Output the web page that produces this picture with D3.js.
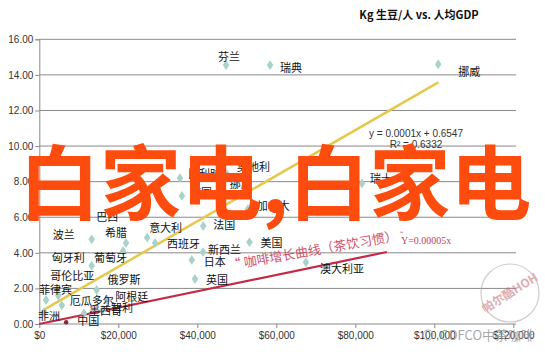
<!DOCTYPE html>
<html><head><meta charset="utf-8">
<script src="https://cdn.jsdelivr.net/npm/d3@7/dist/d3.min.js"></script>
<style>
html,body{margin:0;padding:0;background:#fff;}
svg{display:block;}
</style></head>
<body>
<svg id="c" width="545" height="355"></svg>
<script>
// ---- data ----
const countries = ["芬兰","瑞典","挪威","奥地利","挪威","比利时","德国","加拿大","瑞士","巴西","法国","美国","意大利","西班牙","希腊","波兰","葡萄牙","匈牙利","新西兰","日本","英国","澳大利亚","俄罗斯","哥伦比亚","菲律宾","厄瓜多尔","阿根廷","智利","墨西哥","非洲"];
const gdpPerCapita = [47270,58420,101000,47500,46200,35600,36100,52800,81700,11140,41500,53200,27300,29300,21950,13270,21200,13270,41450,38600,39400,67500,14500,4800,1700,5700,17200,16100,11300,1200];
const kgPerCapita = [14.55,14.55,14.6,8.4,8.05,8.2,7.2,6.45,7.9,6.07,5.51,4.6,4.85,4.55,4.55,4.76,4.1,3.28,4.04,3.6,2.53,3.47,1.91,1.6,1.35,1.05,1.35,0.8,0.6,0.65];
const chinaLabel = "中国";
const chinaGdp = 6800;
const chinaKg = 0.1;
const yTicks = [0,2,4,6,8,10,12,14,16];
const xTicks = [0,20000,40000,60000,80000,100000,120000];
const trendSlope = 0.000128, trendIntercept = 0.6547, trendRange = [1000,101000];
const coffeeSlope = 0.000046, coffeeRange = [0,88000];
const titleText = "Kg 生豆/人 vs. 人均GDP";
const eqText = ["y = 0.0001x + 0.6547","R² = 0.6332"];
const coffeeText = "“ 咖啡增长曲线（茶饮习惯）";
const coffeeEq = "Y=0.00005x";
const overlayText = "白家电,白家电";

// label offsets (layout only)
const labelPos = [
 [-8,-7,"start"],[10,4,"start"],[20,9,"start"],[10,-7,"start"],[8,4,"start"],[8,-3,"start"],[8,-2,"start"],[9,-2,"start"],[8,-3,"start"],
 [13,2,"start"],[10,0,"start"],[11,2,"start"],[2,-9,"start"],[12,2,"start"],[1,-9,"end"],[-17,-3,"end"],[4,8,"end"],[-7,-7,"end"],
 [5,-1,"start"],[12,3,"start"],[11,2,"start"],[14,8,"start"],[11,-9,"start"],[36,-19,"end"],[26,-9,"end"],[8,-3,"start"],[8,-2,"start"],[8,-1,"start"],[5,-1,"start"],[16,5,"end"]
];

const svg = d3.select("#c");
const x = d3.scaleLinear().domain([0,120000]).range([39.3,513.3]);
const y = d3.scaleLinear().domain([0,16]).range([324,39.3]);
const font = "'Noto Sans CJK SC','Liberation Sans',sans-serif";

// gridlines
svg.append("g").selectAll("line").data(yTicks.filter(d=>d>0)).join("line")
  .attr("x1",x(0)).attr("x2",516).attr("y1",d=>y(d)).attr("y2",d=>y(d))
  .attr("stroke","#8a8a8a").attr("stroke-width",1);

// axes
const yAxis = d3.axisLeft(y).tickValues(yTicks).tickFormat(d3.format(".2f")).tickSize(4).tickPadding(2);
const gy = svg.append("g").attr("transform",`translate(${x(0)},0)`).call(yAxis);
const xAxis = d3.axisBottom(x).tickValues(xTicks).tickFormat(d=>"$"+d3.format(",")(d)).tickSize(4).tickPadding(4);
const gx = svg.append("g").attr("transform",`translate(0,${y(0)})`).call(xAxis);
[gx,gy].forEach(g=>{
  g.selectAll("path,line").attr("stroke","#8a8a8a");
  g.selectAll("text").attr("font-family","'Liberation Sans',sans-serif").attr("font-size",10).attr("fill","#333");
});
gx.select(".domain").attr("d",`M${x(0)},0H516`);

// trend line (yellow)
svg.append("line")
  .attr("x1",x(trendRange[0])).attr("y1",y(trendIntercept+trendSlope*trendRange[0]))
  .attr("x2",x(trendRange[1])).attr("y2",y(trendIntercept+trendSlope*trendRange[1]))
  .attr("stroke","#e6c84a").attr("stroke-width",2.5);
// coffee line (red)
svg.append("line")
  .attr("x1",x(coffeeRange[0])).attr("y1",y(coffeeSlope*coffeeRange[0]))
  .attr("x2",x(coffeeRange[1])).attr("y2",y(coffeeSlope*coffeeRange[1]))
  .attr("stroke","#c42a48").attr("stroke-width",2.2);

// points
const sym = d3.symbol().type(d3.symbolDiamond).size(28);
svg.append("g").selectAll("path").data(countries.map((c,i)=>({c,i}))).join("path")
  .attr("d",sym).attr("transform",d=>`translate(${x(gdpPerCapita[d.i])},${y(kgPerCapita[d.i])}) scale(1.15,1)`)
  .attr("fill","#a9d2cb");
svg.append("circle").attr("cx",x(chinaGdp)).attr("cy",y(chinaKg)).attr("r",2.2).attr("fill","#8b2535");

// labels
svg.append("g").selectAll("text").data(countries.map((c,i)=>({c,i}))).join("text")
  .attr("x",d=>x(gdpPerCapita[d.i])+labelPos[d.i][0])
  .attr("y",d=>y(kgPerCapita[d.i])+labelPos[d.i][1])
  .attr("text-anchor",d=>labelPos[d.i][2])
  .attr("dominant-baseline","middle")
  .attr("font-family",font).attr("font-size",11).attr("fill","#111")
  .text(d=>d.c);
svg.append("text").attr("x",x(chinaGdp)+11).attr("y",y(chinaKg)).attr("dominant-baseline","middle")
  .attr("font-family",font).attr("font-size",11).attr("fill","#111").text(chinaLabel);

// title
svg.append("text").attr("x",419).attr("y",19).attr("text-anchor","middle")
  .attr("font-family",font).attr("font-weight","bold").attr("font-size",11).attr("fill","#111").text(titleText);

// equation
svg.append("g").selectAll("text").data(eqText).join("text")
  .attr("x",416).attr("y",(d,i)=>137+i*11).attr("text-anchor","middle")
  .attr("font-family","'Liberation Sans',sans-serif").attr("font-size",10).attr("fill","#333")
  .text(d=>d);

// coffee annotation
svg.append("text").attr("transform","translate(229,270) rotate(-10)")
  .attr("font-family",font).attr("font-size",13).attr("fill","#d2506a").text(coffeeText);
svg.append("text").attr("x",401).attr("y",244)
  .attr("font-family","'Liberation Serif',serif").attr("font-size",10).attr("fill","#c8405c").text(coffeeEq);
svg.append("text").attr("x",400).attr("y",236)
  .attr("font-family","'Liberation Serif',serif").attr("font-size",7).attr("fill","#c8405c").text("“");

// watermark stamp
const st = svg.append("g").attr("transform","translate(510,293)").attr("opacity",0.55);
st.append("circle").attr("r",29).attr("fill","none").attr("stroke","#b0a4a4").attr("stroke-width",1.2);
st.append("text").attr("transform","rotate(-32)").attr("text-anchor","middle").attr("y",4)
  .attr("font-family",font).attr("font-weight","bold").attr("font-size",12).attr("fill","#c66a74").text("帕尔酷HOH");
svg.append("text").attr("x",440).attr("y",340)
  .attr("font-family",font).attr("font-size",13).attr("fill","#9a9a9a").attr("opacity",0.85).text("COFCO中茶咖啡");
svg.append("circle").attr("cx",428).attr("cy",335).attr("r",5).attr("fill","none").attr("stroke","#aaa");

// overlay text
svg.append("text").attr("x",19).attr("y",213)
  .attr("font-family","'Noto Sans CJK SC',sans-serif").attr("font-weight","bold").attr("font-size",81)
  .attr("fill","#fd4c0e").text(overlayText);
</script>
</body></html>
